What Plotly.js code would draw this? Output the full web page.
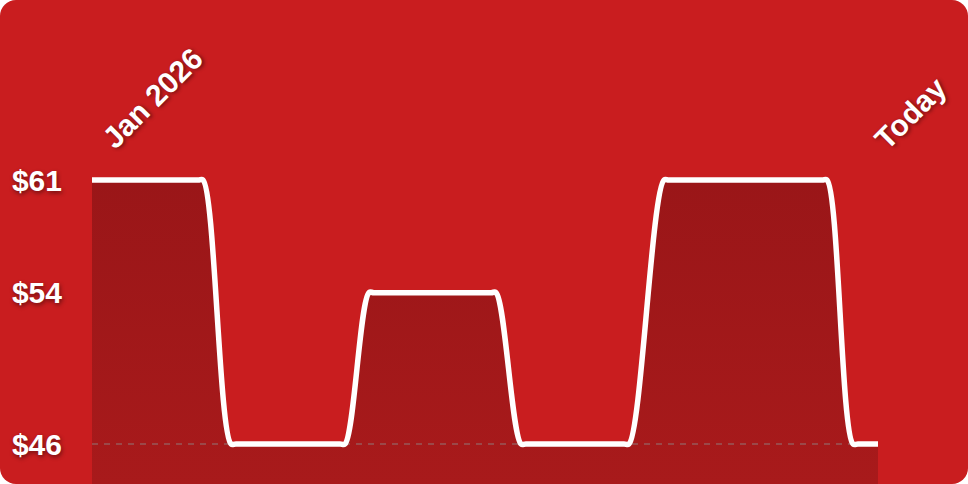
<!DOCTYPE html>
<html>
<head>
<meta charset="utf-8">
<script src="https://cdn.plot.ly/plotly-3.0.1.min.js"></script>
<style>
  html, body { margin:0; padding:0; background:#ffffff; }
  #wrap { width:968px; height:484px; border-radius:16px; overflow:hidden; background:#c91d1f; position:relative; }
  #chart { width:968px; height:484px; }
</style>
</head>
<body>
<div id="wrap"><div id="chart"></div></div>
<script>
// Days since Jan 1 2026 (x) and price levels (y), read along the flat runs of the curve
const days   = [0, 10.6, 11.1, 13.9, 14.4, 24.8, 25.3, 27.7, 28.2, 39.9, 40.4, 42.9, 43.4, 53.2, 53.7, 57.2, 57.7, 73.0, 73.5, 76.1, 76.6, 78.6];
const prices = [61, 61,   61,   46,   46,   46,   46,   54.6, 54.6, 54.6, 54.6, 46,   46,   46,   46,   61,   61,   61,   61,   46,   46,   46];
const tickValues = [61, 54.6, 46];
const tickLabels = ["$61", "$54", "$46"];
const startLabel = "Jan 2026";
const endLabel = "Today";

const minPrice = Math.min(...prices);
const xFirst = days[0], xLast = days[days.length - 1];

const shadow = "1px 2px 4px rgba(0,0,0,0.45)";
const labelFont = {family:"Liberation Sans, Arial, sans-serif", size:30, color:"#ffffff", weight:700, shadow:shadow};

const fillTrace = {
  x: days, y: prices, type:"scatter", mode:"lines",
  line:{shape:"spline", smoothing:1, width:0, color:"rgba(0,0,0,0)"},
  fill:"tozeroy",
  fillgradient:{type:"vertical", start:43.7, stop:61,
    colorscale:[[0,"#a81a1b"],[1,"#9a1618"]]},
  hoverinfo:"skip"
};
const baseTrace = {
  x:[xFirst, xLast], y:[minPrice, minPrice], type:"scatter", mode:"lines",
  line:{color:"rgba(140,140,140,0.55)", width:1.5, dash:"6px,6px"},
  hoverinfo:"skip"
};
const lineTrace = {
  x: days, y: prices, type:"scatter", mode:"lines",
  line:{shape:"spline", smoothing:1, width:5.5, color:"#ffffff"},
  hoverinfo:"skip"
};

const layout = {
  width:968, height:484,
  margin:{l:92, r:90, t:0, b:0, pad:0},
  paper_bgcolor:"rgba(0,0,0,0)", plot_bgcolor:"rgba(0,0,0,0)",
  showlegend:false,
  xaxis:{range:[xFirst, xLast], visible:false, fixedrange:true},
  yaxis:{range:[43.727, 71.227], showgrid:false, zeroline:false, showline:false,
    tickvals:tickValues, ticktext:tickLabels,
    ticks:"outside", ticklen:23, tickcolor:"rgba(0,0,0,0)",
    tickfont:labelFont, fixedrange:true},
  annotations:[
    {x:xFirst, xref:"x", y:1-98/484, yref:"paper", xshift:60, text:startLabel,
     showarrow:false, textangle:-45, xanchor:"center", yanchor:"middle", font:labelFont},
    {x:xLast, xref:"x", y:1-113/484, yref:"paper", xshift:32, text:endLabel,
     showarrow:false, textangle:-45, xanchor:"center", yanchor:"middle", font:labelFont}
  ]
};

Plotly.newPlot("chart", [fillTrace, baseTrace, lineTrace], layout, {displayModeBar:false, staticPlot:true});
</script>
</body>
</html>
